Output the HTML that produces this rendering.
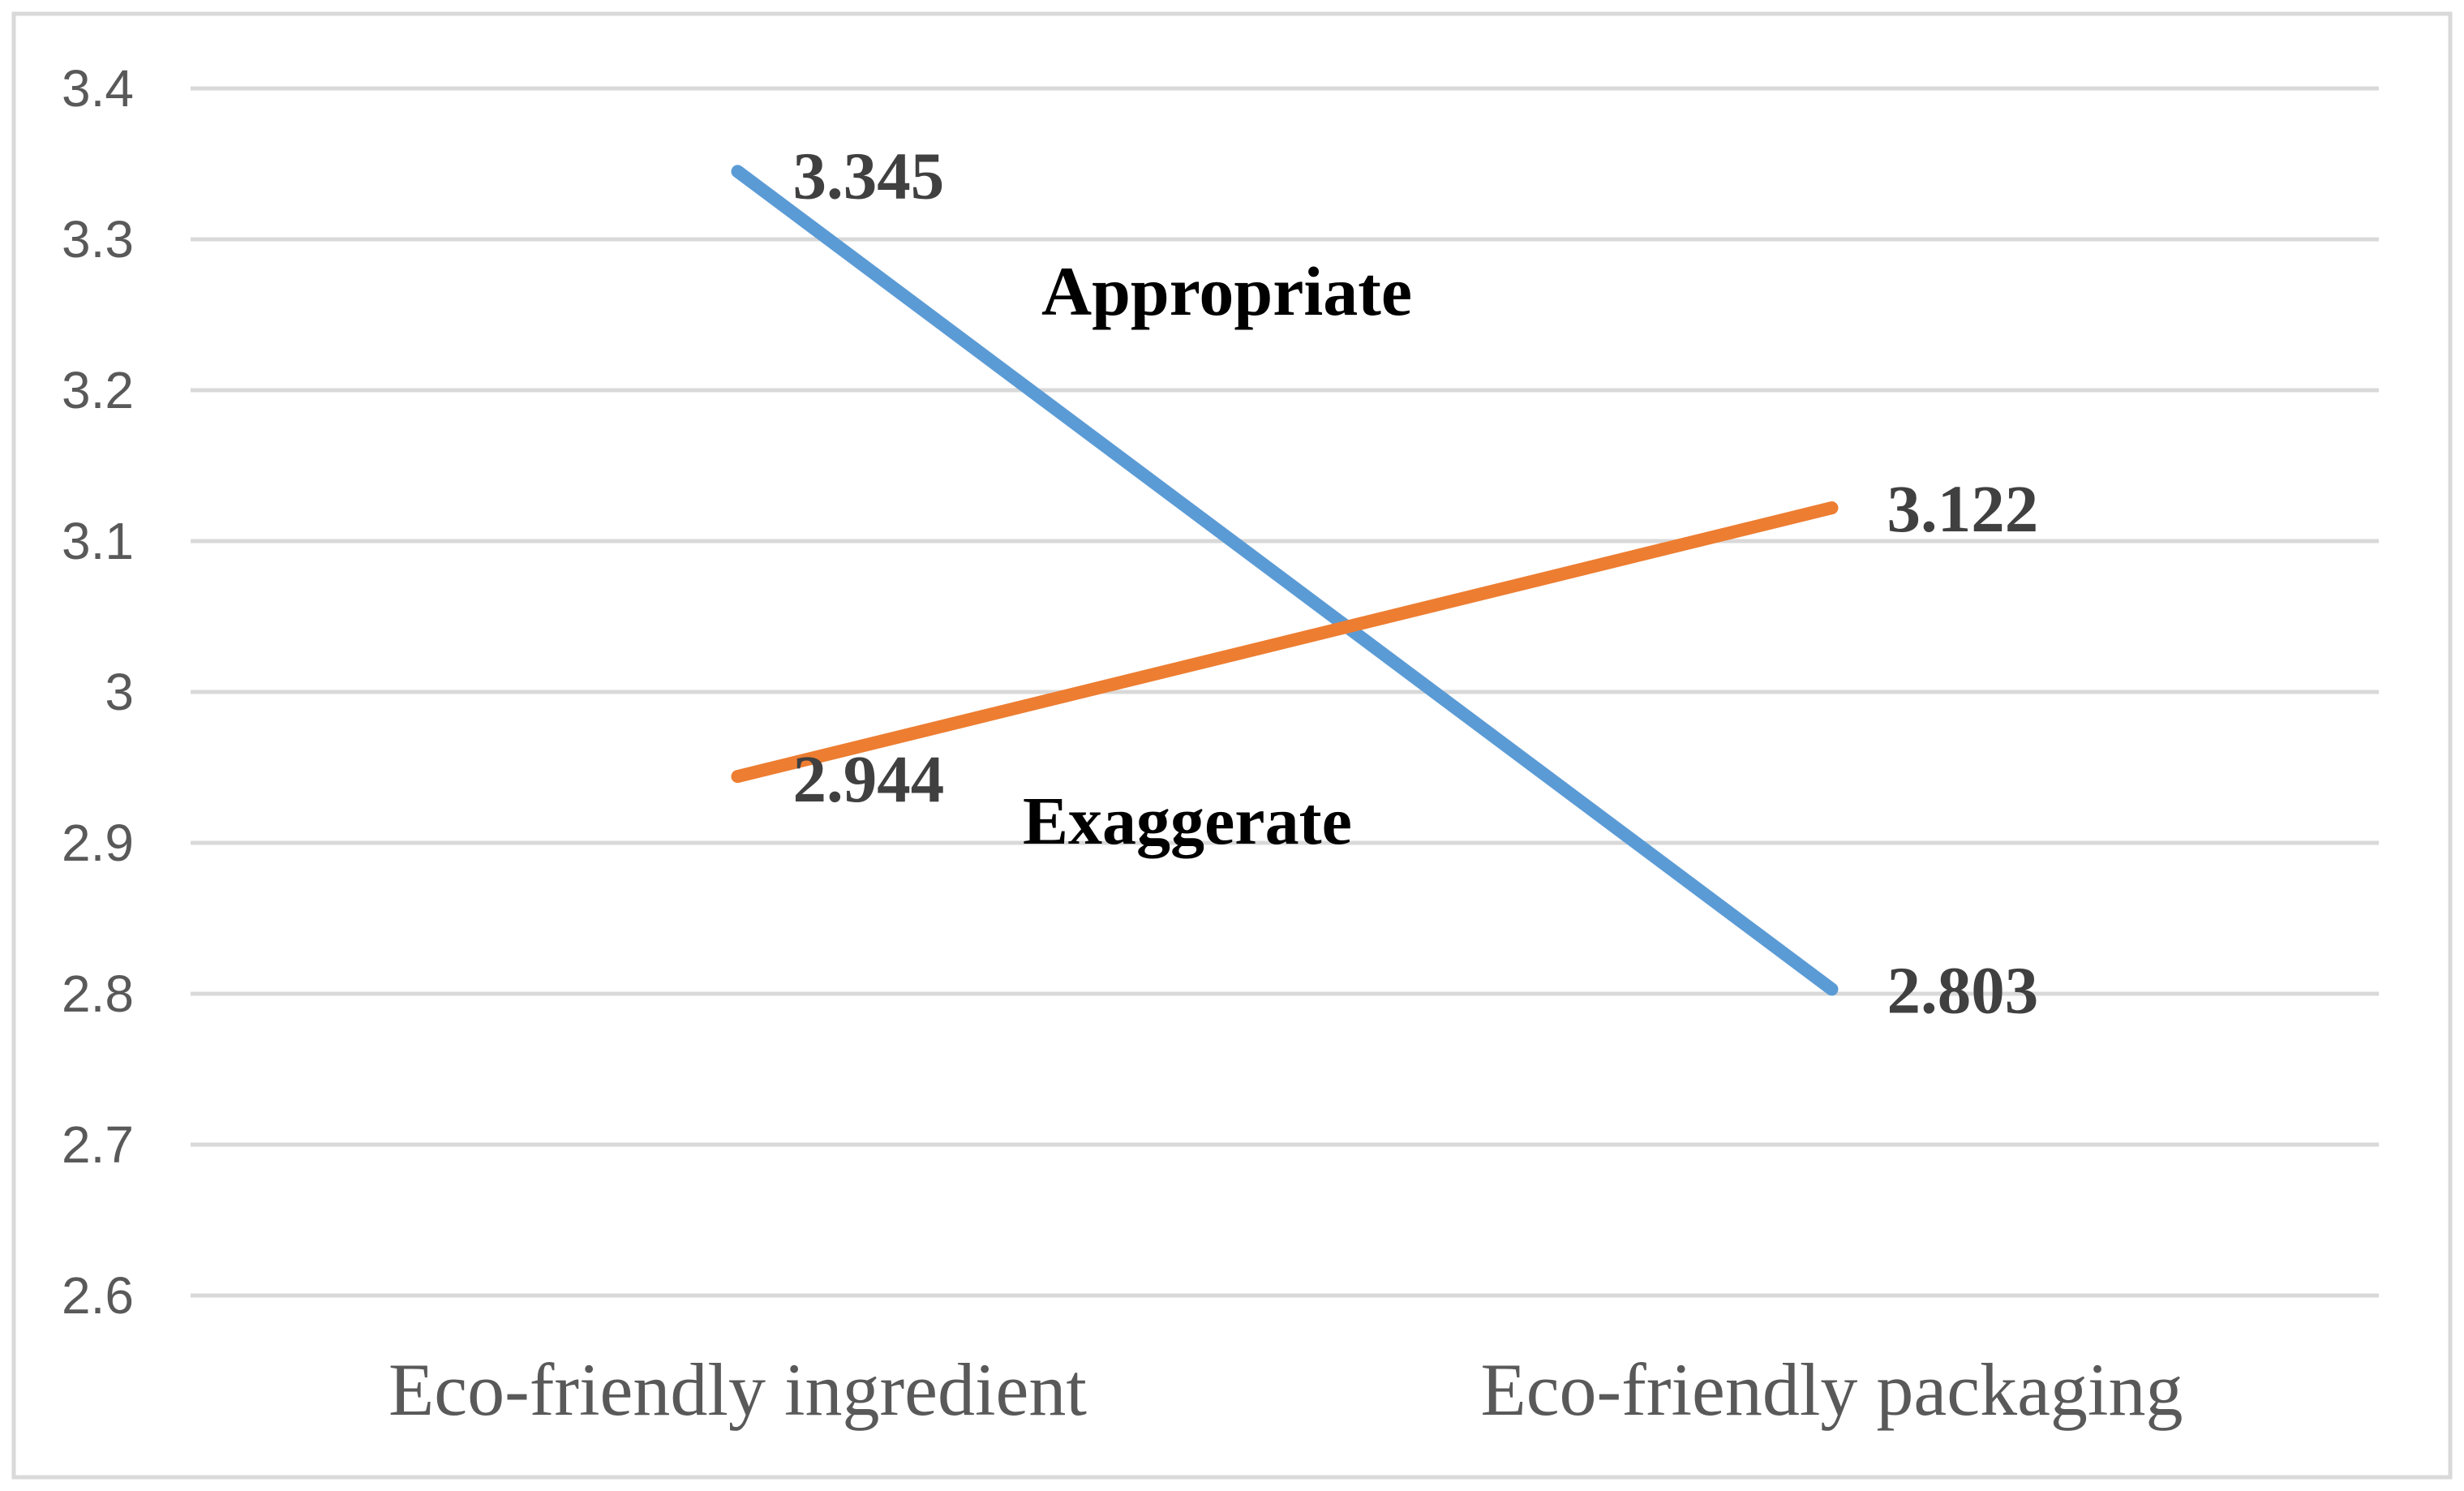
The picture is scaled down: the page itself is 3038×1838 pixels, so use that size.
<!DOCTYPE html>
<html><head><meta charset="utf-8"><style>
html,body{margin:0;padding:0;background:#fff;width:3038px;height:1838px;overflow:hidden}
</style></head><body>
<svg id="chart" width="3038" height="1838" xmlns="http://www.w3.org/2000/svg">
<rect x="17" y="17" width="3004" height="1804" fill="#fff" stroke="#d9d9d9" stroke-width="5"/>
<g id="grid"></g><g id="yticks"></g><g id="xlabels"></g><g id="series"></g><g id="labels"></g>
<text x="1284" y="388" font-family="Liberation Serif, serif" font-weight="bold" font-size="86" fill="#000">Appropriate</text>
<text x="1261" y="1040" font-family="Liberation Serif, serif" font-weight="bold" font-size="84" fill="#000">Exaggerate</text>
</svg>
<script>
const categories = ["Eco-friendly ingredient", "Eco-friendly packaging"];
const appropriate = [3.345, 2.803];
const exaggerate = [2.944, 3.122];
const yTicks = [2.6, 2.7, 2.8, 2.9, 3.0, 3.1, 3.2, 3.3, 3.4];
const yTickLabels = ["2.6", "2.7", "2.8", "2.9", "3", "3.1", "3.2", "3.3", "3.4"];

const NS = "http://www.w3.org/2000/svg";
const plotL = 235, plotR = 2933, yTop = 109, yBot = 1597, yMin = 2.6, yMax = 3.4;
const y = v => yBot - (v - yMin) / (yMax - yMin) * (yBot - yTop);
const band = (plotR - plotL) / categories.length;
const x = i => plotL + band * (i + 0.5);
function mk(tag, attrs, parent) { const e = document.createElementNS(NS, tag); for (const k in attrs) e.setAttribute(k, attrs[k]); document.getElementById(parent).appendChild(e); return e; }

yTicks.forEach((t, i) => {
  const g = mk("line", {x1: plotL, x2: plotR, y1: y(t), y2: y(t), stroke: "#d9d9d9", "stroke-width": 5}, "grid");
  
  
  const l = mk("text", {x: 165, y: y(t) + 22, "text-anchor": "end", "font-family": "Liberation Sans, sans-serif", "font-size": 64, fill: "#595959"}, "yticks");
  
  
  l.textContent = yTickLabels[i];
});
categories.forEach((c, i) => {
  const l = mk("text", {x: x(i), y: 1744, "text-anchor": "middle", "font-family": "Liberation Serif, serif", "font-size": 92, fill: "#595959"}, "xlabels");
  
  
  l.textContent = c;
});
function drawSeries(vals, color, name, offsets) {
  const pts = vals.map((v, i) => x(i) + "," + y(v)).join(" ");
  const p = mk("polyline", {points: pts, fill: "none", stroke: color, "stroke-width": 16, "stroke-linecap": "round", "stroke-linejoin": "round"}, "series");
  
  
  vals.forEach((v, i) => {
    const t = mk("text", {x: x(i) + 68, y: y(v) + offsets[i], "font-family": "Liberation Serif, serif", "font-weight": "bold", "font-size": 83, fill: "#404040"}, "labels");
    
    
    t.textContent = v.toFixed(3);
  });
}
drawSeries(appropriate, "#5b9bd5", "appropriate", [33, 29]);
drawSeries(exaggerate, "#ed7d31", "exaggerate", [31, 29]);
</script>
</body></html>
